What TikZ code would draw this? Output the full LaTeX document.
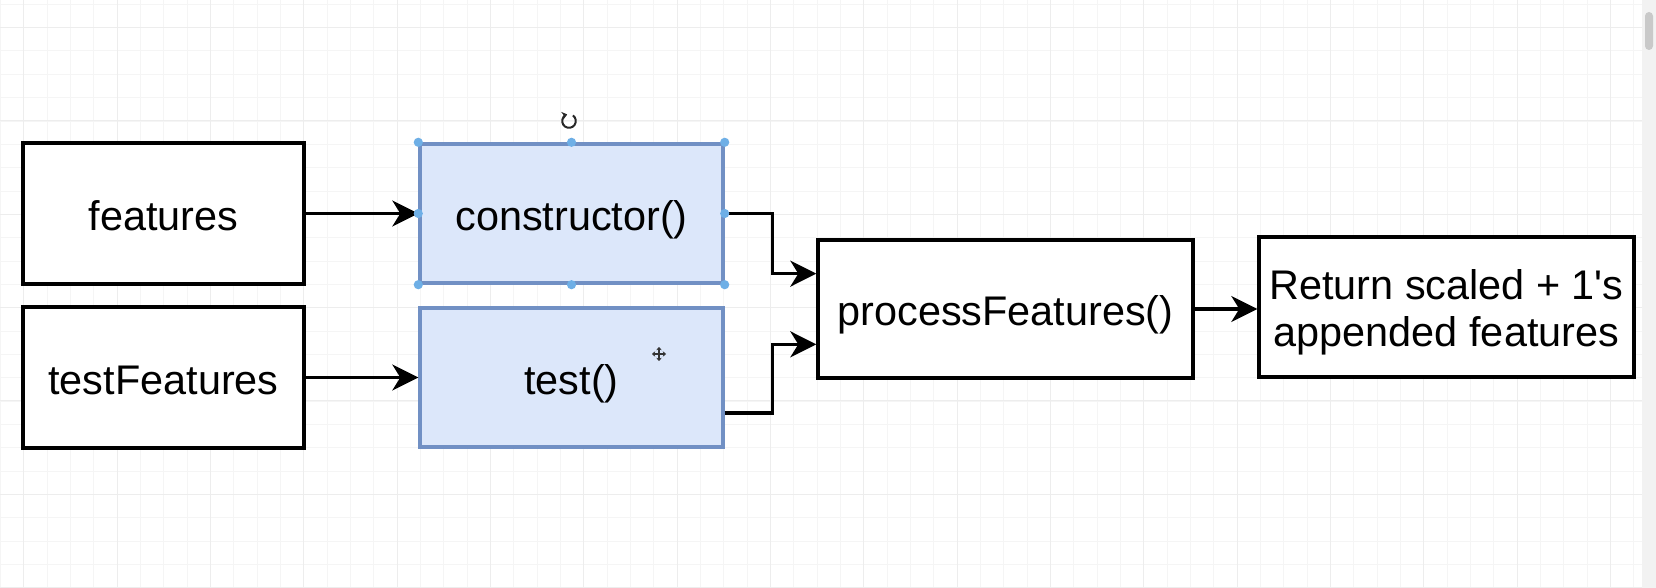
\documentclass[tikz,border=0pt]{standalone}
\usepackage{fontspec}
\setmainfont{Liberation Sans}
\usetikzlibrary{arrows.meta,calc}
\font\rawsansfont="Liberation Sans" at 20.7pt
\newcommand\straightapos{{\rawsansfont'}}
\definecolor{bluefill}{HTML}{DCE7FA}
\definecolor{blueline}{HTML}{7190C4}
\definecolor{handlecol}{RGB}{110,175,230}
\definecolor{gridminor}{HTML}{F5F5F5}
\definecolor{gridmajor}{HTML}{EDEDED}
\definecolor{scrollbg}{HTML}{F2F2F2}
\definecolor{scrollthumb}{HTML}{C9C9C9}
\begin{document}
\begin{tikzpicture}[x=0.5pt,y=-0.5pt,
  plainbox/.style={draw=black, line width=1.7pt, fill=white, inner sep=0pt,
    font=\fontsize{20.7}{23.5}\selectfont, text height=17pt, text depth=0pt},
  bluebox/.style={plainbox, draw=blueline, fill=bluefill},
  conn/.style={line width=1.6pt, -{Stealth[length=13pt,width=13pt,inset=4pt]}},
  handle/.style={fill=handlecol}]
\useasboundingbox (0,0) rectangle (1656,588);
\fill[white] (0,0) rectangle (1656,588);
% grid
\begin{scope}[line width=0.5pt]
\foreach \x in {0.333,23.667,...,1640} \draw[gridminor] (\x,0) -- (\x,588);
\foreach \y in {4.333,27.667,...,588} \draw[gridminor] (0,\y) -- (1642,\y);
\foreach \x in {23.667,117,...,1640} \draw[gridmajor] (\x,0) -- (\x,588);
\foreach \y in {27.667,121,...,588} \draw[gridmajor] (0,\y) -- (1642,\y);
\end{scope}
% scrollbar
\fill[scrollbg] (1642,0) rectangle (1656,588);
\fill[scrollthumb, rounded corners=2pt] (1645,12) rectangle (1653,50);
% nodes
\node[plainbox, minimum width=140.5pt, minimum height=70.5pt] (feat) at (163.5,213.5) {features};
\node[plainbox, minimum width=140.5pt, minimum height=70.5pt] (tfeat) at (163.5,377.5) {testFeatures};
\node[bluebox, minimum width=151.5pt, minimum height=69.5pt] (ctor) at (571.5,213.5) {constructor()};
\node[bluebox, minimum width=151.5pt, minimum height=69.5pt] (test) at (571.5,377.5) {test()};
\node[plainbox, minimum width=187.5pt, minimum height=69pt] (proc) at (1005.5,309) {processFeatures()};
\node[plainbox, minimum width=187.5pt, minimum height=70pt, align=center, text height=40pt, text depth=0pt] (ret) at (1446.5,307) {Return scaled + 1\straightapos s\\appended features};
% connectors
\draw[conn] (feat.east) -- (ctor.west);
\draw[conn] (tfeat.east) -- (test.west);
\draw[conn] (ctor.east) -- ++(48,0) |- ($(proc.north west)!0.25!(proc.south west)$);
\draw[conn] ($(test.north east)!0.75!(test.south east)$) -- ++(48,0) |- ($(proc.north west)!0.75!(proc.south west)$);
\draw[conn] (proc.east) -- (proc.east -| ret.west);
% selection handles
\foreach \a in {north west,north,north east,west,east,south west,south,south east}
  \fill[handle] (ctor.\a) circle[radius=2.3pt];
% rotation icon
\draw[line width=1pt, black!85, -{Stealth[length=2.6pt,width=4pt]}] (569,121) ++(55:3.4pt) arc[start angle=55, end angle=-255, radius=3.4pt];
% move cursor
\draw[line width=1.1pt, black!80, {Stealth[length=1.6pt,width=2.8pt]}-{Stealth[length=1.6pt,width=2.8pt]}] (659,347) -- (659,361);
\draw[line width=1.1pt, black!80, {Stealth[length=1.6pt,width=2.8pt]}-{Stealth[length=1.6pt,width=2.8pt]}] (652,354) -- (666,354);
\end{tikzpicture}
\end{document}
